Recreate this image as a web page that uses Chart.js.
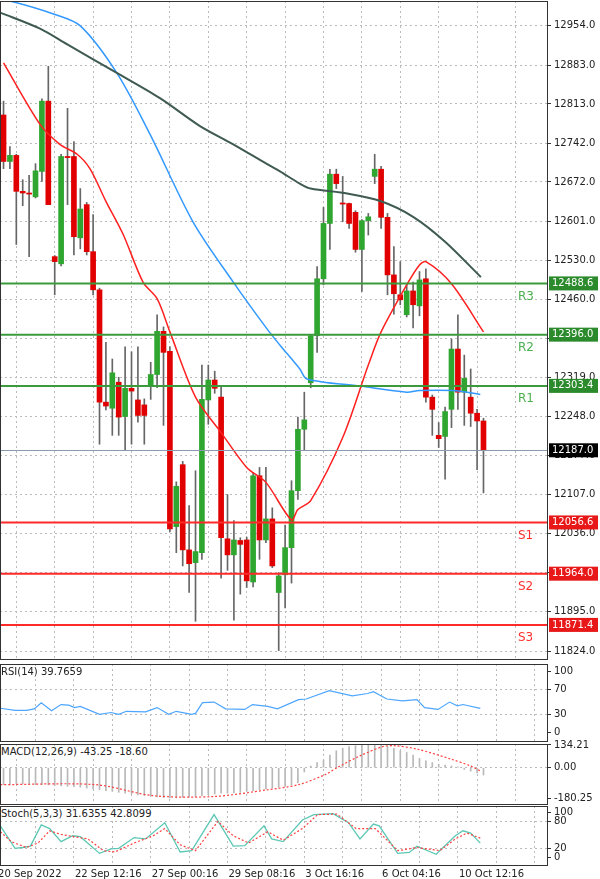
<!DOCTYPE html>
<html><head><meta charset="utf-8">
<script src="https://cdn.jsdelivr.net/npm/chart.js@4.4.0/dist/chart.umd.min.js"></script>
<style>
body{margin:0;background:#fff;width:600px;height:879px;overflow:hidden;font-family:"DejaVu Sans",sans-serif;position:relative}
.pane{position:absolute;left:0;width:600px}
.lbl{position:absolute;left:1px;font:10px "DejaVu Sans",sans-serif;color:#222;background:#fff}
</style></head><body>
<div class="pane" style="top:-8px;height:677px"><canvas id="main"></canvas></div>
<div class="pane" style="top:655px;height:96px"><canvas id="rsi"></canvas></div>
<div class="pane" style="top:735px;height:79px"><canvas id="macd"></canvas></div>
<div class="pane" style="top:797px;height:82px"><canvas id="stoch"></canvas></div>
<div class="lbl" style="top:666px">RSI(14) 39.7659</div>
<div class="lbl" style="top:746px">MACD(12,26,9) -43.25 -18.60</div>
<div class="lbl" style="top:808px">Stoch(5,3,3) 31.6355 42.8099</div>
<script>
const opens  = [12793,12709,12720,12655,12652,12645,12691,12818,12537,12524,12718,12718,12571,12631,12546,12477,12274,12263,12310,12248,12299,12278,12269,12304,12324,12402,12366,12049,12161,12007,11984,12002,12278,12314,12283,12027,11998,12024,12025,11949,12141,12025,12063,11930,11962,12011,12114,12225,12309,12394,12497,12597,12686,12634,12633,12617,12550,12602,12682,12695,12608,12504,12468,12432,12475,12448,12497,12283,12214,12212,12261,12370,12292,12283,12254,12240];
const highs  = [12818,12736,12722,12676,12684,12705,12822,12881,12539,12722,12805,12745,12660,12635,12613,12480,12382,12352,12319,12374,12365,12374,12280,12346,12432,12410,12374,12130,12167,12087,12150,12341,12341,12330,12304,12107,12060,12029,12030,12147,12156,12156,12083,11966,12052,12132,12247,12292,12396,12519,12626,12695,12695,12682,12634,12620,12604,12615,12722,12700,12615,12555,12528,12488,12491,12510,12515,12287,12237,12265,12388,12432,12359,12334,12261,12245];
const lows   = [12696,12696,12559,12629,12537,12643,12673,12631,12468,12520,12631,12540,12551,12540,12468,12198,12260,12214,12214,12187,12198,12238,12198,12279,12300,12232,12040,12002,11978,11930,11878,11990,12234,12290,11956,11970,11880,11927,11939,11940,11990,12020,11975,11825,11902,11947,12098,12187,12300,12364,12486,12550,12660,12600,12588,12545,12474,12576,12669,12588,12468,12433,12450,12428,12408,12430,12274,12214,12192,12135,12228,12261,12232,12230,12152,12110];
const closes = [12709,12720,12655,12652,12650,12692,12818,12631,12528,12718,12716,12573,12623,12546,12477,12274,12267,12327,12247,12299,12294,12250,12250,12324,12402,12364,12045,12122,12007,11982,12004,12279,12314,12299,12029,11998,12025,12017,11951,12141,12025,12063,11978,11960,12011,12114,12225,12242,12394,12497,12597,12686,12669,12632,12597,12550,12602,12609,12695,12608,12504,12470,12459,12475,12450,12495,12283,12261,12208,12257,12370,12292,12317,12254,12240,12187];

const maFastIdx = [0,5.7,8.8,11.5,13.5,16,18.7,21.8,24,26,30,34,38,41,45,46,48,53,57,59,63,65,66,70,75];
const maFast    = [12887,12776,12740,12722,12696,12637,12577,12491,12461,12401,12283,12219,12156,12129,12061,12080,12096,12210,12341,12401,12486,12522,12528,12488,12401];
const maMidIdx  = [-0.5,1,7.7,12,17.7,22.9,29.6,35.9,41.2,43.2,46.3,47.4,55.7,63,65,70.2,74.5];
const maMid     = [13000,12999,12976,12954,12869,12758,12600,12491,12406,12377,12334,12316,12303,12292,12295,12295,12288];
const maSlowIdx = [-0.5,5.7,9.9,17.7,24.5,30.7,35.9,41.2,43.2,46.3,48,53.7,59,64,69,74.6];
const maSlow    = [12978,12949,12921,12869,12823,12773,12740,12704,12691,12669,12660,12651,12637,12609,12564,12500];

const resist = [12488.6,12396.0,12303.4];
const support = [12056.6,11964.0,11871.4];
const lastPrice = 12187.0;
const priceTicks = [12954,12883,12813,12742,12672,12601,12530,12460,12389,12319,12248,12177,12107,12036,11966,11895,11824];

const rsiIdx = [-0.5,1.8,3.6,4.8,5.9,7.5,9,10.2,11.1,12,15,16.8,18,19.2,22.2,24,25.8,27,29.4,30,31.1,32.9,34.7,37.7,38.9,41.3,42.8,46.1,47.3,50.9,54.5,56.9,57.8,59.9,62.3,64.6,65.8,67.9,69.7,70.9,71.8,74.5];
const rsiVal = [40,36.4,36.4,39,49,36,46,45,41,43,30,33,30,35,34,41,30,35,30,31.5,49,50,39,38,46,43,39,54,55,68.5,60,64,67,55,52,54,41,38,50,44,46,39.8];

const macdHist = [-100,-98,-95,-95,-98,-100,-100,-102,-105,-108,-110,-112,-115,-120,-125,-130,-135,-140,-145,-150,-155,-160,-165,-170,-172,-175,-178,-178,-175,-172,-170,-165,-160,-155,-150,-150,-148,-145,-140,-135,-130,-125,-120,-115,-110,-100,-90,-25,10,30,45,75,100,115,125,130,135,138,140,134,125,115,100,90,75,55,40,30,20,15,10,5,-10,-20,-30,-43];
const sigIdx = [-0.5,14.4,23.4,32.9,41.3,46.1,50.3,52.1,55.7,59.3,61.1,64.6,70,73,74.5];
const sigVal = [-100,-100,-165,-170,-130,-100,-40,0,70,125,130,110,50,10,-18.6];

const kIdx = [-0.5,1.8,3,4.2,5.9,7.2,9,10.8,12,15,16.8,18,20.4,22.2,25.2,27.6,29.4,32.9,35.9,37.7,40.7,41.9,43.7,46.7,48.5,51.5,53.9,55.7,57.8,58.7,61.6,63.4,64.6,67.6,70.6,71.8,73,74.5];
const kVal = [70,20,22,25,72,64,35,48,46,9,19,20,44,41,77,12,15,95,25,26,70,41,35,83,95,97,77,41,74,70,9,11,25,7,48,59,54,31.6];
const dIdx = [-0.5,1.2,3.6,5.4,7.2,9,11.4,13.2,15.6,17.4,20.4,23.4,25.2,27.6,30,33.5,35.9,38.3,41.3,43.7,46.7,49.1,52.1,55.1,58.1,61.6,64.6,68.2,70.6,72.4,74.5];
const dVal = [57,35,22,32,59,51,45,41,15,12,32,48,64,28,15,80,48,32,57,38,64,95,96,64,64,15,22,15,41,54,42.8];

const dateIdx = [-1,11,23,35,47,59,71];
const dateLabels = ['20 Sep 2022','22 Sep 12:16','27 Sep 00:16','29 Sep 08:16','3 Oct 16:16','6 Oct 04:16','10 Oct 12:16'];

const UP = '#2fa62f', DOWN = '#e00000';
const pts = (xs, ys) => xs.map((x, i) => ({x, y: ys[i]}));

const frame = {
  id: 'frame',
  afterDraw(c) {
    const a = c.chartArea, g = c.ctx;
    g.save(); g.strokeStyle = '#333'; g.lineWidth = 1;
    g.strokeRect(Math.round(a.left) + 0.5, Math.round(a.top) + 0.5, Math.round(a.right - a.left) - 1, Math.round(a.bottom - a.top) - 1);
    g.restore();
  }
};

function xScale() {
  return {
    type: 'linear', min: -0.55, max: 85.08, offset: false,
    afterBuildTicks: ax => { ax.ticks = []; for (let v = -1; v < 85; v += 6) ax.ticks.push({value: v}); },
    ticks: {display: false},
    grid: {color: '#bbb', drawTicks: false},
    border: {display: false, dash: [2, 3]}
  };
}
function yScale(min, max, ticks, fmt, gridTicks) {
  return {
    position: 'right', min, max,
    afterFit: s => { s.width = 52; },
    afterBuildTicks: ax => { ax.ticks = ticks.map(v => ({value: v})); },
    ticks: {color: '#222', font: {size: 10, family: 'DejaVu Sans'}, padding: 3, callback: fmt},
    grid: {color: ctx => (gridTicks && !gridTicks.includes(ctx.tick.value)) ? 'rgba(0,0,0,0)' : '#bbb', tickColor: '#333', tickLength: 3},
    border: {display: false, dash: [2, 3]}
  };
}
const base = {
  responsive: true, maintainAspectRatio: false, animation: false,
  plugins: {legend: {display: false}, tooltip: {enabled: false}}
};

// price levels + boxes
const levels = {
  id: 'levels',
  afterDatasetsDraw(c) {
    const g = c.ctx, y = c.scales.y, a = c.chartArea;
    g.save();
    g.font = '10px "DejaVu Sans"';
    const box = (v, fill) => {
      const py = y.getPixelForValue(v);
      g.fillStyle = fill; g.fillRect(a.right + 1, py - 7, 49, 14);
      g.fillStyle = '#fff'; g.textBaseline = 'middle'; g.textAlign = 'left';
      g.fillText(v.toFixed(1), a.right + 4, py);
    };
    const py0 = y.getPixelForValue(lastPrice);
    g.strokeStyle = '#8a9bb0'; g.lineWidth = 1;
    g.beginPath(); g.moveTo(a.left, Math.round(py0) + 0.5); g.lineTo(a.right, Math.round(py0) + 0.5); g.stroke();
    box(lastPrice, '#000');
    const draw = (arr, col, txtCol, fill, name) => arr.forEach((v, i) => {
      const py = y.getPixelForValue(v);
      g.strokeStyle = col; g.lineWidth = 2;
      g.beginPath(); g.moveTo(a.left, py); g.lineTo(a.right, py); g.stroke();
      g.fillStyle = txtCol; g.font = '12px "DejaVu Sans"'; g.textAlign = 'left'; g.textBaseline = 'middle';
      g.fillText(name + (name === 'R' ? 3 - i : i + 1), 518, py + 13);
      g.font = '10px "DejaVu Sans"';
      box(v, fill);
    });
    draw(resist, '#3c9a3c', '#4caf50', '#2b8a2b', 'R');
    draw(support, '#ff2a2a', '#ff3030', '#e81818', 'S');
    g.restore();
  }
};

const candleX = closes.map((_, i) => i);
new Chart(document.getElementById('main'), {
  type: 'bar',
  data: {datasets: [
    {type: 'line', data: pts(maSlowIdx, maSlow), borderColor: '#3f5a52', borderWidth: 2, pointRadius: 0, tension: 0.3, order: 0},
    {type: 'line', data: pts(maMidIdx, maMid), borderColor: '#3399ff', borderWidth: 1.5, pointRadius: 0, tension: 0.3, order: 0},
    {type: 'line', data: pts(maFastIdx, maFast), borderColor: '#ff2020', borderWidth: 1.5, pointRadius: 0, tension: 0.3, order: 0},
    {data: candleX.map(i => ({x: i, y: [opens[i], closes[i]]})), barThickness: 5, minBarLength: 1,
     backgroundColor: candleX.map(i => closes[i] >= opens[i] ? UP : DOWN), borderWidth: 0, order: 1, grouped: false},
    {data: candleX.map(i => ({x: i, y: [lows[i], highs[i]]})), barThickness: 1, backgroundColor: '#666', order: 2, grouped: false}
  ]},
  options: {...base, layout: {padding: 0},
    scales: {x: xScale(), y: yScale(11808, 12999, priceTicks, v => v.toFixed(1))}},
  plugins: [levels, frame]
});

new Chart(document.getElementById('rsi'), {
  type: 'line',
  data: {datasets: [{data: pts(rsiIdx, rsiVal), borderColor: '#4da6ff', borderWidth: 1.2, pointRadius: 0}]},
  options: {...base, scales: {x: xScale(), y: yScale(-15, 112, [0, 30, 70, 100], v => String(v), [30, 70])}},
  plugins: [frame]
});

new Chart(document.getElementById('macd'), {
  type: 'bar',
  data: {datasets: [
    {type: 'line', data: pts(sigIdx, sigVal), borderColor: '#ff4040', borderWidth: 1.2, borderDash: [2, 2], pointRadius: 0, tension: 0.3, order: 0},
    {data: candleX.map(i => ({x: i, y: macdHist[i]})), barThickness: 1, backgroundColor: '#b8b8b8', order: 1}
  ]},
  options: {...base, scales: {x: xScale(), y: yScale(-220, 140, [-180.25, 0, 134.21], v => v.toFixed(2), [0])}},
  plugins: [frame]
});

const dates = {
  id: 'dates',
  afterDraw(c) {
    const g = c.ctx, x = c.scales.x;
    g.save(); g.font = '10px "DejaVu Sans"'; g.fillStyle = '#222'; g.textBaseline = 'top'; g.textAlign = 'left';
    dateIdx.forEach((v, i) => g.fillText(dateLabels[i], x.getPixelForValue(v) + 1, c.chartArea.bottom + 3));
    g.restore();
  }
};
new Chart(document.getElementById('stoch'), {
  type: 'line',
  data: {datasets: [
    {data: pts(dIdx, dVal), borderColor: '#ff4040', borderWidth: 1.2, borderDash: [2, 2], pointRadius: 0},
    {data: pts(kIdx, kVal), borderColor: '#5cc8b4', borderWidth: 1.3, pointRadius: 0}
  ]},
  options: {...base, layout: {padding: {bottom: 13}},
    scales: {x: xScale(), y: yScale(-19, 114, [0, 20, 80, 100], v => String(v), [20, 80])}},
  plugins: [frame, dates]
});
</script>
</body></html>
